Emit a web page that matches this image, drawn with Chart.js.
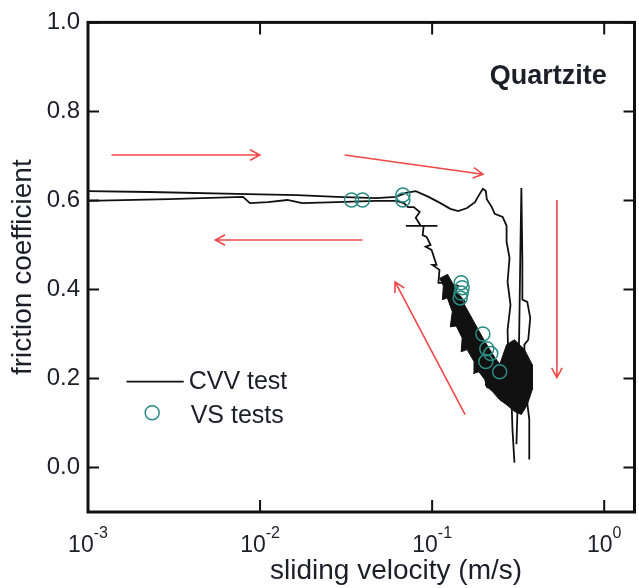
<!DOCTYPE html>
<html>
<head>
<meta charset="utf-8">
<script src="https://cdn.jsdelivr.net/npm/chart.js@4.4.0/dist/chart.umd.min.js"></script>
<style>
html, body { margin: 0; padding: 0; background: #fff; overflow: hidden; }
#wrap { width: 643px; height: 588px; }
</style>
</head>
<body>
<div id="wrap"><canvas id="chart" width="643" height="588"></canvas></div>
<script>
// Axis ticks
const xTickValues = [0.001, 0.01, 0.1, 1];
const xTickExponents = ['-3', '-2', '-1', '0'];
const yTickValues = [0.0, 0.2, 0.4, 0.6, 0.8, 1.0];

// VS tests (open circles)
const vsVelocity = [0.0340, 0.0394, 0.0676, 0.0676, 0.1475, 0.1495, 0.1475, 0.1456, 0.1972, 0.2078, 0.2192, 0.2051, 0.2469];
const vsFriction = [0.601, 0.601, 0.612, 0.601, 0.415, 0.404, 0.392, 0.381, 0.300, 0.267, 0.256, 0.238, 0.215];

// CVV test - accelerating branch and upper loop
const upperVelocity = [0.001, 0.00227, 0.0085, 0.01646, 0.02791, 0.04735, 0.06166, 0.07037, 0.08031, 0.0954,
  0.1117, 0.1275, 0.1418, 0.1596, 0.1774, 0.1871, 0.1972, 0.2051, 0.2078, 0.2221,
  0.2311, 0.2568, 0.2708, 0.2708, 0.2817, 0.2744, 0.2854, 0.2744, 0.2780, 0.2893, 0.2931, 0.3009];
const upperFriction = [0.621, 0.619, 0.614, 0.612, 0.608, 0.605, 0.608, 0.617, 0.621, 0.608,
  0.594, 0.581, 0.576, 0.583, 0.596, 0.612, 0.626, 0.621, 0.603, 0.585,
  0.570, 0.563, 0.543, 0.507, 0.471, 0.417, 0.365, 0.309, 0.231, 0.152, 0.085, 0.011];

// CVV test - narrow spike at peak velocity
const spikeVelocity = [0.3090, 0.3172, 0.3215, 0.3258, 0.3301, 0.3345, 0.3345, 0.3572, 0.3717, 0.3619, 0.3436, 0.3436, 0.3669, 0.3669];
const spikeFriction = [0.052, 0.197, 0.332, 0.489, 0.628, 0.466, 0.377, 0.372, 0.336, 0.287, 0.276, 0.197, 0.108, 0.018];

// CVV test - decelerating branch (jagged)
const lowerVelocity = [0.2708, 0.2311, 0.2404, 0.2078, 0.2163, 0.1896, 0.1972, 0.1728, 0.1822, 0.1596,
  0.1683, 0.1456, 0.1555, 0.1362, 0.1418, 0.1194, 0.1088, 0.1103, 0.1005, 0.1060,
  0.0992, 0.0917, 0.0979, 0.0929, 0.0881, 0.0893, 0.0704, 0.1074, 0.0858, 0.0803,
  0.0847, 0.0782, 0.0723, 0.0686, 0.0617, 0.0474, 0.0279, 0.0176, 0.0144, 0.0111,
  0.00873, 0.00796, 0.00296, 0.001];
const lowerFriction = [0.152, 0.186, 0.202, 0.220, 0.238, 0.253, 0.271, 0.287, 0.303, 0.321,
  0.336, 0.359, 0.372, 0.395, 0.408, 0.415, 0.415, 0.444, 0.455, 0.455,
  0.489, 0.496, 0.500, 0.518, 0.522, 0.543, 0.543, 0.543, 0.543, 0.561,
  0.574, 0.585, 0.585, 0.594, 0.599, 0.599, 0.596, 0.594, 0.601, 0.596,
  0.594, 0.608, 0.603, 0.599];

// CVV test - dense oscillation blob near peak velocity
const blobVelocity = [0.2163, 0.2469, 0.2708, 0.3009, 0.3436, 0.3818, 0.3818, 0.3572, 0.3301, 0.3009, 0.2708, 0.2469, 0.2250, 0.2025];
const blobFriction = [0.215, 0.231, 0.276, 0.287, 0.265, 0.231, 0.175, 0.141, 0.119, 0.126, 0.141, 0.152, 0.170, 0.186];

// CVV test - jagged band along the decelerating branch
const bandVelocity = [0.1226, 0.1380, 0.1555, 0.1774, 0.2025, 0.2311, 0.2568, 0.2502, 0.2221, 0.2078,
  0.2025, 0.1871, 0.1728, 0.1751, 0.1596, 0.1475, 0.1495, 0.1380, 0.1275, 0.1310,
  0.1226, 0.1147, 0.1162, 0.1103];
const bandFriction = [0.435, 0.399, 0.363, 0.323, 0.283, 0.247, 0.224, 0.161, 0.179, 0.179,
  0.197, 0.215, 0.211, 0.238, 0.265, 0.260, 0.291, 0.318, 0.316, 0.350,
  0.381, 0.377, 0.408, 0.426];

// Red arrows (start -> end)
const arrowFromV = [0.00137, 0.0394, 0.0310, 0.531, 0.1555];
const arrowFromMu = [0.702, 0.511, 0.702, 0.601, 0.119];
const arrowToV = [0.00996, 0.0055, 0.1972, 0.531, 0.0609];
const arrowToMu = [0.702, 0.511, 0.659, 0.202, 0.417];

const FONT = "'Liberation Sans', Arial, Helvetica, sans-serif";
const TEXT = '#1e1e28';
const TEAL = '#2a8c84';

function zip(xs, ys) {
    return xs.map((v, i) => ({ x: v, y: ys[i] }));
}

function cvvLine(xs, ys, extra) {
    return Object.assign({
        data: zip(xs, ys),
        borderColor: '#111',
        backgroundColor: '#111',
        borderWidth: 1.8,
        pointRadius: 0,
        tension: 0,
        fill: false,
        order: 2
    }, extra || {});
}

function drawArrow(ctx, x1, y1, x2, y2) {
    const ang = Math.atan2(y2 - y1, x2 - x1);
    const len = 11, spread = 0.5;
    ctx.beginPath();
    ctx.moveTo(x1, y1);
    ctx.lineTo(x2, y2);
    ctx.moveTo(x2 - len * Math.cos(ang - spread), y2 - len * Math.sin(ang - spread));
    ctx.lineTo(x2, y2);
    ctx.lineTo(x2 - len * Math.cos(ang + spread), y2 - len * Math.sin(ang + spread));
    ctx.stroke();
}

// Frame, inward ticks, x labels with superscripts, x title, arrows, legend and sample name
const notesPlugin = {
    id: 'notesPlugin',
    afterDatasetsDraw(chart) {
        const { ctx, chartArea: a, scales: { x, y } } = chart;
        ctx.save();

        // arrows
        ctx.strokeStyle = '#f04848';
        ctx.lineWidth = 1.6;
        for (let i = 0; i < arrowFromV.length; i++) {
            drawArrow(ctx,
                x.getPixelForValue(arrowFromV[i]), y.getPixelForValue(arrowFromMu[i]),
                x.getPixelForValue(arrowToV[i]), y.getPixelForValue(arrowToMu[i]));
        }

        // frame
        ctx.strokeStyle = '#111';
        ctx.lineWidth = 3;
        ctx.strokeRect(a.left, a.top, a.right - a.left, a.bottom - a.top);

        // ticks
        ctx.lineWidth = 2;
        ctx.beginPath();
        xTickValues.forEach(v => {
            const px = x.getPixelForValue(v);
            ctx.moveTo(px, a.bottom); ctx.lineTo(px, a.bottom - 12);
            ctx.moveTo(px, a.top); ctx.lineTo(px, a.top + 12);
        });
        yTickValues.forEach(v => {
            const py = y.getPixelForValue(v);
            ctx.moveTo(a.left, py); ctx.lineTo(a.left + 11, py);
            ctx.moveTo(a.right, py); ctx.lineTo(a.right - 11, py);
        });
        ctx.stroke();

        // x tick labels 10^n
        ctx.fillStyle = TEXT;
        ctx.textBaseline = 'alphabetic';
        ctx.textAlign = 'left';
        xTickValues.forEach((v, i) => {
            const px = x.getPixelForValue(v);
            ctx.font = '23px ' + FONT;
            const wb = ctx.measureText('10').width;
            ctx.font = '16px ' + FONT;
            const ws = ctx.measureText(xTickExponents[i]).width;
            const sx = px - (wb + ws) / 2;
            ctx.font = '23px ' + FONT;
            ctx.fillText('10', sx, a.bottom + 40);
            ctx.font = '16px ' + FONT;
            ctx.fillText(xTickExponents[i], sx + wb, a.bottom + 26);
        });

        // x axis title
        ctx.font = '28px ' + FONT;
        ctx.textAlign = 'center';
        ctx.fillText('sliding velocity (m/s)', x.getPixelForValue(0.0617), a.bottom + 67);
        ctx.textAlign = 'left';

        // legend
        const lx1 = x.getPixelForValue(0.001675), lx2 = x.getPixelForValue(0.003601);
        const ly1 = y.getPixelForValue(0.193);
        ctx.strokeStyle = '#111';
        ctx.lineWidth = 1.8;
        ctx.beginPath();
        ctx.moveTo(lx1, ly1); ctx.lineTo(lx2, ly1);
        ctx.stroke();
        ctx.strokeStyle = TEAL;
        ctx.lineWidth = 1.5;
        ctx.beginPath();
        ctx.arc(x.getPixelForValue(0.00236), y.getPixelForValue(0.123), 7, 0, Math.PI * 2);
        ctx.stroke();
        ctx.font = '25px ' + FONT;
        ctx.fillStyle = TEXT;
        ctx.fillText('CVV test', x.getPixelForValue(0.003846), y.getPixelForValue(0.177));
        ctx.fillText('VS tests', x.getPixelForValue(0.003951), y.getPixelForValue(0.101));

        // sample name
        ctx.font = 'bold 27px ' + FONT;
        ctx.fillText('Quartzite', x.getPixelForValue(0.2163), y.getPixelForValue(0.861));

        ctx.restore();
    }
};

const ctx = document.getElementById('chart');
const chart = new Chart(ctx, {
    type: 'line',
    data: {
        datasets: [
            {
                label: 'VS tests',
                data: zip(vsVelocity, vsFriction),
                showLine: false,
                pointStyle: 'circle',
                pointRadius: 7,
                pointBorderWidth: 1.5,
                pointBorderColor: TEAL,
                pointBackgroundColor: 'rgba(0,0,0,0)',
                borderColor: TEAL,
                order: 0
            },
            cvvLine(upperVelocity, upperFriction, { label: 'CVV test' }),
            cvvLine(spikeVelocity, spikeFriction),
            cvvLine(lowerVelocity, lowerFriction),
            cvvLine(blobVelocity, blobFriction, { fill: 'shape', borderWidth: 1 }),
            cvvLine(bandVelocity, bandFriction, { fill: 'shape', borderWidth: 1 })
        ]
    },
    options: {
        responsive: false,
        animation: false,
        layout: { padding: { top: 22, right: 1, left: 0, bottom: 0 } },
        plugins: {
            legend: { display: false },
            tooltip: { enabled: false }
        },
        scales: {
            x: {
                type: 'logarithmic',
                min: 0.001,
                max: 1.5,
                afterBuildTicks: s => { s.ticks = xTickValues.map(v => ({ value: v })); },
                afterFit: s => { s.height = 76; },
                grid: { display: false, drawTicks: false },
                border: { display: false },
                ticks: { display: false }
            },
            y: {
                type: 'linear',
                min: -0.1,
                max: 1.0,
                afterBuildTicks: s => { s.ticks = yTickValues.map(v => ({ value: v })); },
                afterFit: s => { s.width = 88; },
                grid: { display: false, drawTicks: false },
                border: { display: false },
                ticks: {
                    color: TEXT,
                    padding: 8,
                    font: { family: FONT, size: 24 },
                    callback: v => Number(v).toFixed(1)
                },
                title: {
                    display: true,
                    text: 'friction coefficient',
                    color: TEXT,
                    font: { family: FONT, size: 28 },
                    padding: { top: 6, bottom: 0 }
                }
            }
        }
    },
    plugins: [notesPlugin]
});
</script>
</body>
</html>
